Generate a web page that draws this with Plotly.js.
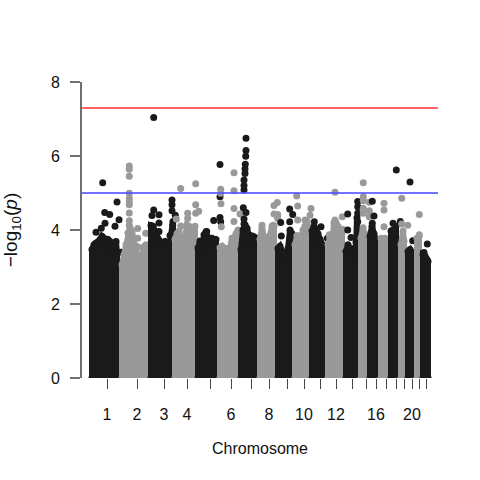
<!DOCTYPE html>
<html><head><meta charset="utf-8">
<script src="https://cdn.plot.ly/plotly-3.0.1.min.js"></script>
<style>html,body{margin:0;padding:0;background:#fff}</style></head>
<body><div id="chart" style="width:480px;height:480px"></div>
<script>
// Genome position of each sampled skyline point, grouped by chromosome block
const topPos = [
 [3,5,7,9,11,13,15,17,19,21,23,25,27,28],
 [33,35,37,39,41,43,45,47,49,51,53,55,57],
 [62,64,66,68,70,72,74,76,78,80,82,84],
 [86,88,90,92,94,96,98,100,102,104,106],
 [109,111,113,115,117,119,121,123,125,127],
 [131,133,135,137,139,141,143,145,147,149],
 [152,154,156,158,160,162,164,166,168],
 [171,173,175,177,179,181,183,185],
 [189,191,193,195,197,199,201,203],
 [206,208,210,212,214,216,218,220],
 [223,225,227,229,231,233,235],
 [239,241,243,245,247,249,251,253],
 [257,259,261,263,265,267,268],
 [272,274,276,277],
 [281,283,285,287],
 [292,294,296,297],
 [302,304,306,307],
 [312,314,315],
 [319,321,323,324],
 [328,330],
 [334,336,338,339]
];
// Upper edge of the dense cloud of points (-log10 p) at those positions
const topVal = [
 [3.47,3.6,3.65,3.56,3.74,3.83,3.78,3.69,3.74,3.69,3.42,3.51,3.69,3.38],
 [3.06,3.33,3.6,3.92,4.06,3.95,3.6,3.42,3.2,3.15,3.33,3.55,3.6],
 [4.12,4.1,3.95,3.8,3.72,3.6,3.66,3.69,3.6,3.5,3.85,4.23],
 [3.75,3.9,3.97,3.7,3.6,3.78,4.14,4.1,3.7,3.85,4.1],
 [3.52,3.65,3.4,3.87,3.95,3.8,3.6,3.78,3.7,3.74],
 [3.52,3.56,3.48,3.5,3.4,3.5,3.78,3.78,3.9,4.0],
 [3.47,4.0,4.14,4.05,3.7,3.6,3.83,3.8,3.7],
 [3.75,4.05,3.7,3.55,3.8,3.85,4.1,4.1],
 [3.5,3.56,3.4,3.3,3.32,3.5,4.0,3.9],
 [3.6,3.85,3.6,3.83,4.0,4.1,4.23,3.95],
 [3.97,4.1,4.02,3.9,3.75,3.6,3.5],
 [3.6,3.8,3.6,4.19,4.19,4.1,3.5,3.92],
 [3.42,3.6,3.5,3.33,3.5,3.55,4.33],
 [3.78,4.06,3.9,3.7],
 [3.83,4.1,3.9,3.69],
 [3.78,3.7,3.78,3.6],
 [3.97,4.0,3.9,4.1],
 [3.6,3.97,3.7],
 [3.42,3.47,3.4,3.3],
 [3.78,3.83],
 [3.33,3.3,3.2,3.15]
];
// Individual points standing above the cloud
const hitBlock = [0,0,0,0,0,0,0,0,0,0,
 1,1,1,1,1,1,1,1,1,1,1,1,1,1,1,
 2,2,2,2,2,2,2,2,2,2,2,2,
 3,3,3,3,3,3,3,3,3,
 4,4,4,4,4,4,4,
 5,5,5,5,5,5,5,5,5,
 6,6,6,6,6,6,6,6,6,6,6,6,6,
 7,7,7,7,7,7,7,
 8,8,8,8,8,
 9,9,9,9,9,9,
 10,10,10,
 11,11,11,11,11,
 12,12,12,12,12,12,12,12,12,
 13,13,13,13,13,13,13,13,
 14,14,14,
 15,15,15,
 16,16,16,
 17,17,17,
 18,18,
 19,19,
 20,20];
const hitPos = [13.7,15.7,20.7,28,30,7,12.3,16,26,32,
 40.3,40.3,40.3,40.3,40.3,40.3,40.3,40.3,40.3,40.3,48.7,48.7,48.7,51,56.7,
 64.7,64.7,63,70,70,70,83,83,83,86.3,83.7,81,
 87.3,91.7,106.7,106.7,109.7,106.7,98.7,98.7,91.7,
 111,117.7,131,131,131,131.7,124.7,
 131.7,131.7,132,145,145,145,145,151,132.3,
 157,157,156.7,156.3,156,156,155,155,155,154.3,157,155,155,
 185,188.3,185,188.7,188.7,173,184.3,
 191.7,192.3,200.7,203.7,200.7,
 207.7,208.7,208.7,216,222,221,
 225.3,232,238.3,
 246,246,240.3,253.3,253.7,
 258.7,258.7,262,267,268.7,268.7,268.7,268.7,268.7,
 274.3,274.3,274.3,274.3,280.3,280.3,274.3,280.3,
 283.3,285,283.3,
 295,295,295,
 307.3,304,311.3,
 312.7,312.7,318.7,
 321,323.7,
 330.3,330.3,
 338.3,335];
const hitVal = [5.28,4.47,4.42,4.76,4.28,3.94,4.05,4.18,4.1,3.4,
 5.73,5.64,5.45,4.99,4.85,4.76,4.68,4.46,4.25,4.13,4.04,3.78,3.55,3.28,3.91,
 7.04,4.54,4.39,4.41,4.19,3.96,4.81,4.68,4.52,4.4,4.13,3.85,
 4.3,5.12,5.25,4.68,4.51,4.45,4.45,4.32,4.11,
 3.7,3.96,5.77,4.9,4.34,4.22,4.26,
 5.1,4.99,4.71,5.55,5.06,4.58,4.23,4.43,4.09,
 6.48,6.15,5.99,5.78,5.65,5.53,5.35,5.2,5.08,4.6,4.47,4.3,4.16,
 4.66,4.74,4.43,4.42,4.31,4.13,4.13,
 4.2,3.84,4.57,4.42,4.22,
 4.92,4.65,4.27,4.27,4.58,4.4,
 4.22,4.09,3.78,
 5.02,4.27,3.87,4.36,4.02,
 4.43,4.0,3.8,3.66,4.77,4.63,4.45,4.22,4.0,
 5.28,4.9,4.79,4.59,4.75,4.52,4.45,4.36,
 4.78,4.38,4.18,
 4.72,4.54,4.09,
 5.62,4.18,4.23,
 4.86,4.16,4.13,
 5.3,3.71,
 4.42,3.87,
 3.62,3.39];
const tickPos = [18,48,75,98,121,142,162,180,198,215,231,247,263,277,287,297,307,315,323,330,337];
const tickText = ['1','2','3','4','','6','','8','','10','','12','','','16','','','','20','',''];
const yTicks = [0,2,4,6,8];
const colors = ['#1a1a1a','#999999'];
const genomeWide = 7.3, suggestive = 5;

const traces = [];
topPos.forEach((xs, b) => {
  const color = colors[b % 2];
  traces.push({
    type:'scatter', mode:'lines+markers', fill:'toself', fillcolor:color,
    x:[xs[0], ...xs, xs[xs.length-1]], y:[0, ...topVal[b], 0],
    line:{color:color, width:6}, marker:{color:color, size:7, line:{width:0}}, hoverinfo:'skip'
  });
  const idx = hitBlock.map((v,i)=>v===b?i:-1).filter(i=>i>=0);
  traces.push({
    type:'scatter', mode:'markers',
    x:idx.map(i=>hitPos[i]), y:idx.map(i=>hitVal[i]),
    marker:{color:color, size:7, line:{width:0}}, hoverinfo:'skip'
  });
});
const font = {family:'"Liberation Sans", Arial, sans-serif', size:16, color:'#111'};
const hline = (y,c)=>({type:'line', xref:'paper', x0:0, x1:1, yref:'y', y0:y, y1:y, line:{color:c, width:2}});
Plotly.newPlot('chart', traces, {
  width:480, height:480, showlegend:false, hovermode:false,
  paper_bgcolor:'#fff', plot_bgcolor:'#fff', font:font,
  margin:{l:82,r:42,t:82,b:102,pad:0},
  xaxis:{range:[-7,349], showgrid:false, zeroline:false, showline:false,
    ticks:'outside', ticklen:10, tickwidth:1, tickcolor:'#444',
    tickmode:'array', tickvals:tickPos, ticktext:tickText, tickangle:0,
    ticklabelstandoff:12, tickfont:font,
    title:{text:'Chromosome', font:font, standoff:20}},
  yaxis:{range:[0,8], showgrid:false, zeroline:false, showline:true, linecolor:'#707070', linewidth:2,
    ticks:'outside', ticklen:10, tickwidth:2, tickcolor:'#707070',
    tickmode:'array', tickvals:yTicks, ticktext:yTicks.map(String), tickangle:0,
    ticklabelstandoff:7, tickfont:font,
    title:{text:'\u2212log<sub>10</sub>(<i>p</i>)', font:{family:font.family, size:19, color:'#111'}, standoff:28}},
  shapes:[hline(genomeWide,'rgba(255,60,60,0.8)'), hline(suggestive,'rgba(80,80,255,0.8)')]
}, {displayModeBar:false, staticPlot:true});
</script></body></html>
